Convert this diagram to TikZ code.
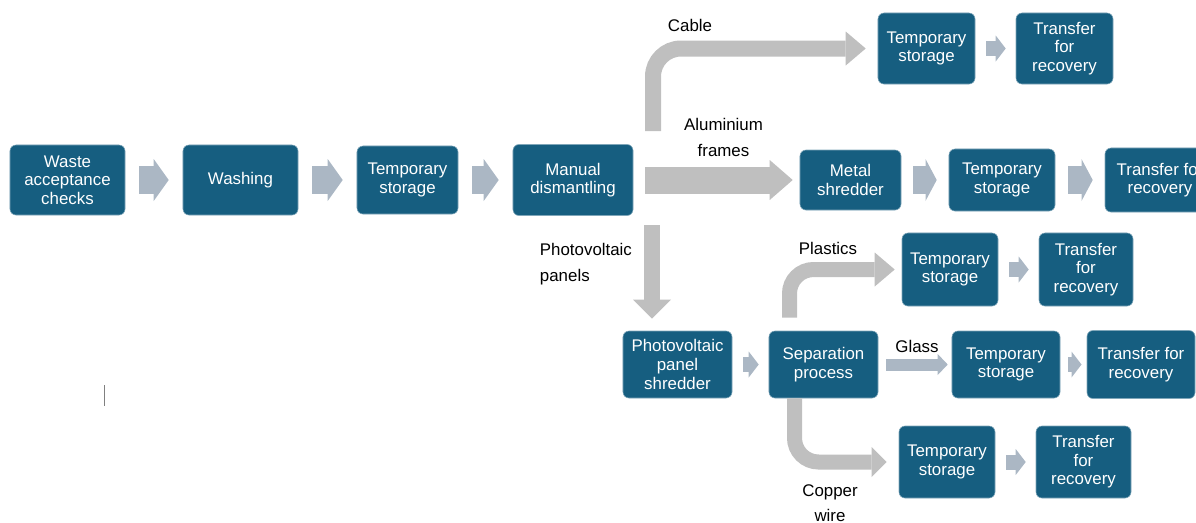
\documentclass[tikz,border=0pt]{standalone}
\usepackage{fontspec}
\setmainfont{Liberation Sans}
\usetikzlibrary{arrows.meta,positioning}
\definecolor{boxblue}{RGB}{22,94,128}
\definecolor{stepgray}{RGB}{171,183,196}
\definecolor{splitgray}{RGB}{191,191,191}

\begin{document}
\begin{tikzpicture}[x=0.025cm, y=-0.025cm,
    proc/.style={draw=boxblue!55!white, line width=0.4pt, fill=boxblue, rounded corners=0.15cm,
        text=white, align=center, inner sep=1pt, font=\fontsize{12}{13.2}\selectfont},
    lbl/.style={align=center, font=\fontsize{12}{18}\selectfont},
    bigstep/.style={draw=stepgray, line width=0.7cm, -{Triangle[width=1.05cm,length=0.375cm,line width=0pt]},
        shorten <=0.35cm, shorten >=0.35cm},
    smallstep/.style={draw=stepgray, line width=0.375cm, -{Triangle[width=0.65cm,length=0.25cm,line width=0pt]},
        shorten <=0.27cm, shorten >=0.25cm},
    split/.style={draw=splitgray, line width=0.4cm, -{Triangle[width=0.85cm,length=0.5cm,line width=0pt]}}]
\useasboundingbox (0,0) rectangle (1196,522);
\clip (0,0) rectangle (1196,522);

% Main line
\node[proc, minimum width=2.875cm, minimum height=1.75cm] (waste) at (67.5,180) {Waste\\acceptance\\checks};
\node[proc, minimum width=2.875cm, minimum height=1.75cm] (wash) at (240.5,180) {Washing};
\node[proc, minimum width=2.525cm, minimum height=1.7cm] (store) at (407.5,180) {Temporary\\storage};
\node[proc, minimum width=3cm, minimum height=1.775cm] (dismantle) at (573,180) {Manual\\dismantling};

% Aluminium frames
\node[proc, minimum width=2.525cm, minimum height=1.5cm] (metalshred) at (850.5,180) {Metal\\shredder};
\node[proc, minimum width=2.65cm, minimum height=1.55cm] (alstore) at (1002,180) {Temporary\\storage};
\node[proc, minimum width=2.75cm, minimum height=1.6cm] (alrecover) at (1160,180) {Transfer for\\recovery};

% Cable
\node[proc, minimum width=2.425cm, minimum height=1.775cm] (cabstore) at (926.5,48.5) {Temporary\\storage};
\node[proc, minimum width=2.425cm, minimum height=1.775cm] (cabrecover) at (1064.5,48.5) {Transfer\\for\\recovery};

% Photovoltaic panels
\node[proc, minimum width=2.725cm, minimum height=1.675cm] (pvshred) at (677.5,364.5) {Photovoltaic\\panel\\shredder};
\node[proc, minimum width=2.725cm, minimum height=1.675cm] (separate) at (823.5,364.5) {Separation\\process};

% Plastics
\node[proc, minimum width=2.4cm, minimum height=1.825cm] (plstore) at (950,269.5) {Temporary\\storage};
\node[proc, minimum width=2.35cm, minimum height=1.825cm] (plrecover) at (1086,269.5) {Transfer\\for\\recovery};

% Glass
\node[proc, minimum width=2.7cm, minimum height=1.675cm] (glstore) at (1006,364.5) {Temporary\\storage};
\node[proc, minimum width=2.7cm, minimum height=1.7cm] (glrecover) at (1141,364.5) {Transfer for\\recovery};

% Copper wire
\node[proc, minimum width=2.4cm, minimum height=1.8cm] (custore) at (947,462) {Temporary\\storage};
\node[proc, minimum width=2.375cm, minimum height=1.8cm] (curecover) at (1083.5,462) {Transfer\\for\\recovery};

% Stream labels
\node[lbl] (cablelbl) at (690,25) {Cable};
\node[lbl] (allbl) at (723.5,137.5) {Aluminium\\frames};
\node[lbl, anchor=west, align=left] (pvlbl) at (535,264) {Photovoltaic\\panels};
\node[lbl] (pllbl) at (828,248) {Plastics};
\node[lbl] (gllbl) at (917,346) {Glass};
\node[lbl] (culbl) at (830,503) {Copper\\wire};

\coordinate (cabstart) at (653,131);
\coordinate (pvstart) at (652,225);

% Step arrows
\draw[bigstep] (waste) -- (wash);
\draw[bigstep] (wash) -- (store);
\draw[bigstep] (store) -- (dismantle);
\draw[bigstep, shorten <=0.3cm, shorten >=0.3cm, -{Triangle[width=1.05cm,length=0.28cm,line width=0pt]}] (metalshred) -- (alstore);
\draw[bigstep, shorten <=0.32cm, shorten >=0.3cm, -{Triangle[width=1.05cm,length=0.28cm,line width=0pt]}] (alstore) -- (alrecover);
\draw[smallstep] (cabstore) -- (cabrecover);
\draw[smallstep] (plstore) -- (plrecover);
\draw[smallstep] (pvshred) -- (separate);
\draw[smallstep, shorten <=0.2cm, shorten >=0.13cm] (glstore) -- (glrecover);
\draw[smallstep] (custore) -- (curecover);

% Splits
\draw[split, line width=0.675cm, -{Triangle[width=1cm,length=0.575cm,line width=0pt]},
    shorten <=0.3cm, shorten >=0.175cm] (dismantle) -- (metalshred);
\draw[split, rounded corners=0.7cm, shorten >=0.3cm] (cabstart) |- (cabstore.west);
\draw[split, -{Triangle[width=0.95cm,length=0.475cm,line width=0pt]}, shorten >=0.3cm] (pvstart) -- (pvstart |- pvshred.north);
\draw[split, line width=0.375cm, rounded corners=0.6cm, shorten <=0.325cm, shorten >=0.175cm]
    ([xshift=-0.85cm]separate.north) |- (plstore.west);
\draw[split, line width=0.375cm, rounded corners=0.6cm, -{Triangle[width=0.75cm,length=0.375cm,line width=0pt]},
    shorten >=0.3cm] ([xshift=-0.725cm]separate.south) |- (custore.west);
\draw[draw=stepgray, line width=0.3cm, -{Triangle[width=0.525cm,length=0.25cm,line width=0pt]},
    shorten <=0.2cm, shorten >=0.1cm] (separate) -- (glstore);

% Cursor
\draw[gray, line width=0.6pt] (104,385) -- (104,406);
\end{tikzpicture}
\end{document}
